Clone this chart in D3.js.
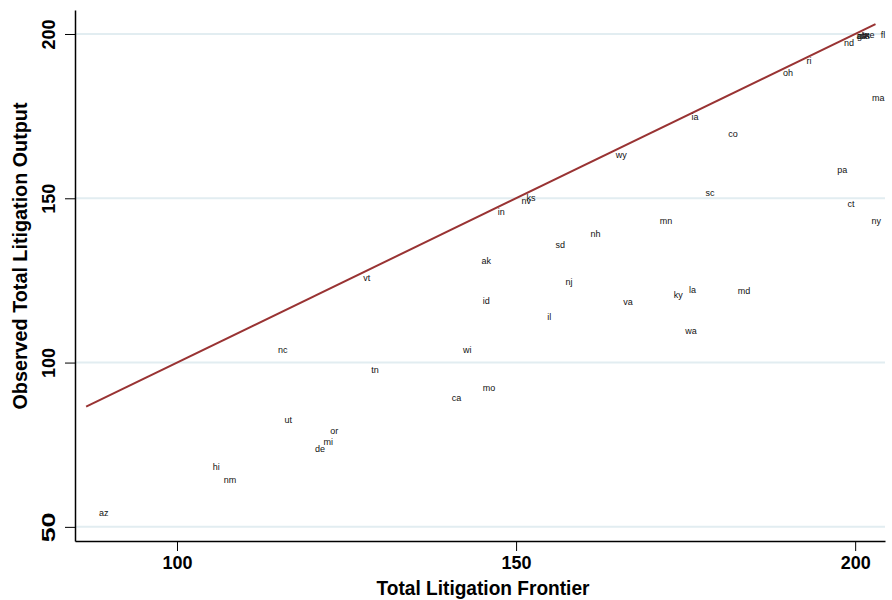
<!DOCTYPE html>
<html>
<head>
<meta charset="utf-8">
<script src="https://cdn.jsdelivr.net/npm/d3@7"></script>
<style>
  body { margin: 0; background: #fff; }
  svg { font-family: "Liberation Sans", Arial, sans-serif; }
</style>
</head>
<body>
<div id="chart"></div>
<script>
// state labels with frontier (x) and observed output (y)
const states = ['az', 'hi', 'nm', 'ut', 'or', 'mi', 'de', 'nc', 'tn', 'vt',
  'ca', 'mo', 'wi', 'id', 'ak', 'in', 'nv', 'ks', 'il', 'sd',
  'nj', 'nh', 'va', 'mn', 'wy', 'ky', 'la', 'wa', 'sc', 'md',
  'co', 'ia', 'oh', 'ri', 'nd', 'al', 'ga', 'ms', 'tx', 'ne',
  'fl', 'ma', 'pa', 'ct', 'ny'];
const frontier = [89.2, 105.8, 107.8, 116.4, 123.2, 122.3, 121.1, 115.6, 129.2, 128.0,
  141.2, 146.0, 142.8, 145.6, 145.6, 147.8, 151.5, 152.2, 154.9, 156.5,
  157.8, 161.7, 166.5, 172.1, 165.5, 173.9, 176.0, 175.8, 178.6, 183.6,
  182.0, 176.4, 190.1, 193.2, 199.1, 200.7, 201.0, 201.3, 201.6, 202.1,
  204.1, 203.4, 198.1, 199.4, 203.1];
const observed = [54.3, 68.3, 64.3, 82.6, 79.2, 75.9, 73.7, 103.9, 97.8, 125.8,
  89.3, 92.3, 103.9, 118.8, 130.9, 145.8, 149.2, 150.1, 113.9, 135.8,
  124.5, 139.1, 118.5, 143.1, 163.2, 120.6, 122.1, 109.6, 151.6, 121.8,
  169.6, 174.7, 188.1, 191.8, 197.3, 199.4, 199.4, 199.5, 199.6, 199.7,
  199.7, 180.5, 158.6, 148.3, 143.1];
const xTicks = [100, 150, 200];
const yTicks = [50, 100, 150, 200];
const lineEnds = [86.6, 203];

const width = 892;
const height = 600;
const margin = {top: 10, right: 7, bottom: 59, left: 75};

const svg = d3.select('#chart')
  .append('svg')
  .attr('width', width)
  .attr('height', height);

const x = d3.scaleLinear()
  .domain([84.96, 204.4])
  .range([margin.left, width - margin.right]);

const y = d3.scaleLinear()
  .domain([45.7, 207.3])
  .range([height - margin.bottom, margin.top]);

// grid lines
svg.append('g')
  .selectAll('line')
  .data(yTicks)
  .enter().append('line')
  .attr('x1', margin.left)
  .attr('x2', width - margin.right)
  .attr('y1', d => y(d))
  .attr('y2', d => y(d))
  .style('stroke', '#e2edf1')
  .style('stroke-width', 2);

// 45 degree line
svg.append('line')
  .attr('x1', x(lineEnds[0]))
  .attr('y1', y(lineEnds[0]))
  .attr('x2', x(lineEnds[1]))
  .attr('y2', y(lineEnds[1]))
  .style('stroke', '#993333')
  .style('stroke-width', 2);

// state labels
svg.append('g')
  .selectAll('text')
  .data(states)
  .enter().append('text')
  .attr('x', (d, i) => x(frontier[i]))
  .attr('y', (d, i) => y(observed[i]))
  .attr('text-anchor', 'middle')
  .attr('dy', '0.35em')
  .style('font-size', '9px')
  .style('fill', '#111')
  .text(d => d);

// axes
const xAxis = svg.append('g')
  .attr('transform', 'translate(0,' + (height - margin.bottom) + ')')
  .call(d3.axisBottom(x).tickValues(xTicks).tickSize(10).tickSizeOuter(0).tickPadding(5));

const yAxis = svg.append('g')
  .attr('transform', 'translate(' + margin.left + ',0)')
  .call(d3.axisLeft(y).tickValues(yTicks).tickSize(10).tickSizeOuter(0));

[xAxis, yAxis].forEach(function(a) {
  a.select('.domain').style('stroke', '#000').style('stroke-width', 1.5);
  a.selectAll('.tick line').style('stroke', '#000').style('stroke-width', 1);
  a.selectAll('.tick text')
    .attr('textLength', 30)
    .attr('lengthAdjust', 'spacingAndGlyphs')
    .style('font-size', '19px')
    .style('font-weight', 'bold')
    .style('fill', '#000')
    .style('font-family', '"Liberation Sans", Arial, sans-serif');
});

yAxis.selectAll('.tick text')
  .attr('transform', 'rotate(-90)')
  .attr('x', 0)
  .attr('y', -27)
  .attr('dy', '0.35em')
  .attr('text-anchor', 'middle');

// titles
svg.append('text')
  .attr('x', 483)
  .attr('y', 595)
  .attr('text-anchor', 'middle')
  .attr('textLength', 213)
  .attr('lengthAdjust', 'spacingAndGlyphs')
  .style('font-size', '21px')
  .style('font-weight', 'bold')
  .text('Total Litigation Frontier');

svg.append('text')
  .attr('transform', 'translate(27,256) rotate(-90)')
  .attr('text-anchor', 'middle')
  .attr('textLength', 307)
  .attr('lengthAdjust', 'spacingAndGlyphs')
  .style('font-size', '21px')
  .style('font-weight', 'bold')
  .text('Observed Total Litigation Output');
</script>
</body>
</html>
